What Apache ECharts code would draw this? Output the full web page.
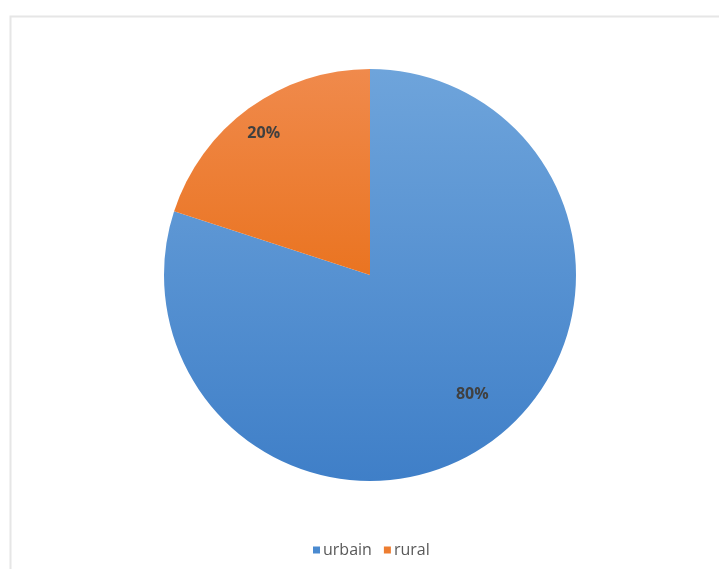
<!DOCTYPE html>
<html>
<head>
<meta charset="utf-8">
<style>
  html, body { margin: 0; padding: 0; background: #ffffff; }
  #chart { width: 719px; height: 569px; }
</style>
<script src="https://cdn.jsdelivr.net/npm/echarts@6/dist/echarts.min.js"></script>
</head>
<body>
<div id="chart"></div>
<script>
// Share of population by area type
const categories = ['urbain', 'rural'];
const shares = [80, 20];

// Vertical shading for each slice: lighter at the top, deeper at the bottom
const sliceColors = [
  { top: '#6ea4db', bottom: '#3f7fc8', legend: '#4a8ad0' },
  { top: '#f08a4c', bottom: '#ea7421', legend: '#ed7d31' }
];

// Per-slice nudges that push the percentage labels toward the rim
const labelOffsets = [[40, 34], [-44, -56]];

const chart = echarts.init(document.getElementById('chart'), null, { renderer: 'canvas' });

const seriesData = categories.map((name, i) => ({
  name: name,
  value: shares[i],
  itemStyle: {
    color: {
      type: 'linear', x: 0, y: 0, x2: 0, y2: 1,
      colorStops: [
        { offset: 0, color: sliceColors[i].top },
        { offset: 1, color: sliceColors[i].bottom }
      ]
    }
  },
  label: { offset: labelOffsets[i] }
}));

chart.setOption({
  animation: false,
  backgroundColor: '#ffffff',
  graphic: [{
    type: 'rect',
    left: 8, top: 14,
    shape: { width: 730, height: 580 },
    style: { fill: 'none', stroke: '#e6e6e6', lineWidth: 2 },
    z: -1
  }],
  legend: {
    data: categories.map((name, i) => ({ name: name, itemStyle: { color: sliceColors[i].legend } })),
    bottom: 6,
    left: 308,
    icon: 'rect',
    itemWidth: 7,
    itemHeight: 7,
    itemGap: 12,
    textStyle: {
      fontFamily: 'Open Sans',
      fontSize: 16,
      color: '#595959',
      padding: [0, 0, 0, -2]
    }
  },
  series: [{
    type: 'pie',
    center: [370, 275],
    radius: 206,
    startAngle: 90,
    clockwise: true,
    silent: true,
    label: {
      show: true,
      position: 'inside',
      formatter: '{d}%',
      fontFamily: 'Open Sans',
      fontWeight: 'bold',
      fontSize: 16,
      color: '#404040'
    },
    labelLine: { show: false },
    itemStyle: { borderWidth: 0 },
    data: seriesData
  }]
});
</script>
</body>
</html>
